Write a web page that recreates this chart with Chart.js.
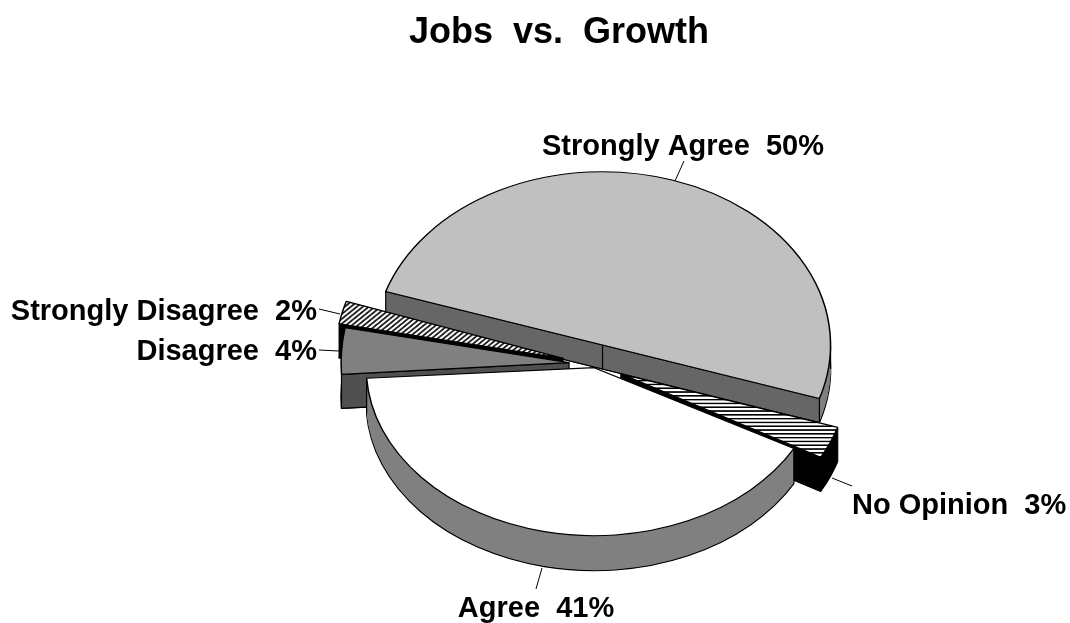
<!DOCTYPE html>
<html>
<head>
<meta charset="utf-8">
<title>Jobs vs. Growth</title>
<script src="https://cdn.jsdelivr.net/npm/chart.js@4"></script>
<style>
  body { margin: 0; background: #fff; }
  canvas { display: block; }
</style>
</head>
<body>
<canvas id="myChart" width="1070" height="623"></canvas>
<script>
// values, in pie order (clockwise)
const categories = ['Strongly Agree', 'No Opinion', 'Agree', 'Disagree', 'Strongly Disagree'];
const percents = [50, 3, 41, 4, 2];

// hatch fills for the two small slices
function stripes (w, h, paint) {
    let c = document.createElement('canvas');
    c.width = w; c.height = h;
    let g = c.getContext('2d');
    g.fillStyle = '#fff';
    g.fillRect(0, 0, w, h);
    g.fillStyle = '#000';
    g.strokeStyle = '#000';
    paint(g);
    return g.createPattern(c, 'repeat');
}
let horizontal = stripes(4, 5, g => g.fillRect(0, 0, 4, 2));
let diagonal = stripes(6, 6, g => {
    g.lineWidth = 1.8;
    g.beginPath();
    g.moveTo(-1, 7); g.lineTo(7, -1);
    g.moveTo(-4, 4); g.lineTo(4, -4);
    g.moveTo(2, 10); g.lineTo(10, 2);
    g.stroke();
});

// fake 3D: each slice gets squashed, pulled out and stacked by this plugin
const look = {
    centre: { x: 597, y: 358 },
    squash: [0.76, 0.76, 0.737, 0.82, 0.81],
    explode: [18, 26, 13, 28, 35],
    drop: [0, 8, 0, 6, 7],
    depth: [24, 34, 35, 34, 34],
    wall: ['#808080', '#000000', '#808080', '#505050', '#000000'],
    cut: ['#666666', '#000000', '#808080', '#505050', '#000000'],
    order: [0, 4, 3, 1, 2],
    baseK: 0.76
};

const calloutPos = [
    { tx: 683, ty: 155, align: 'center', line: [684, 161, 675, 181] },
    { tx: 852, ty: 514, align: 'left', line: [832, 478, 852, 486] },
    { tx: 536, ty: 617, align: 'center', line: [542, 568, 536, 589] },
    { tx: 317, ty: 360, align: 'right', line: [319, 350, 339, 351] },
    { tx: 317, ty: 320, align: 'right', line: [319, 309, 340, 314] }
];

function drawSlice (ctx, arc, i) {
    let k = look.squash[i], d = look.depth[i];
    let mid = (arc.startAngle + arc.endAngle) / 2;
    let tipX = look.centre.x + Math.cos(mid) * look.explode[i];
    let tipY = look.centre.y + Math.sin(mid) * look.explode[i] * look.baseK + look.drop[i];
    let R = arc.outerRadius;

    function place (dy) {
        ctx.save();
        ctx.translate(tipX, tipY + dy);
        ctx.scale(1, k);
        ctx.translate(-arc.x, -arc.y);
    }
    function ghost (opts) {
        let g = Object.create(arc);
        g.options = Object.assign({}, arc.options, opts);
        return g;
    }
    function rim (a) {
        return [tipX + Math.cos(a) * R, tipY + Math.sin(a) * R * k];
    }
    function drop (a) {
        let p = rim(a);
        ctx.beginPath();
        ctx.moveTo(p[0], p[1]);
        ctx.lineTo(p[0], p[1] + d);
        ctx.stroke();
    }

    // side wall, bottom layer keeps the outline
    for (let y = d; y >= 1; y--) {
        place(y);
        ghost({ backgroundColor: look.wall[i], borderColor: '#000', borderWidth: y === d ? 1.5 : 0 }).draw(ctx);
        ctx.restore();
    }

    ctx.strokeStyle = '#000';
    ctx.lineWidth = 1.2;

    // flat cut faces, only those turned towards the viewer
    let faces = [
        { a: arc.startAngle, show: Math.cos(arc.startAngle) < 0 },
        { a: arc.endAngle, show: Math.cos(arc.endAngle) > 0 }
    ];
    faces.forEach(f => {
        if (f.show) {
            let p = rim(f.a);
            ctx.beginPath();
            ctx.moveTo(tipX, tipY);
            ctx.lineTo(p[0], p[1]);
            ctx.lineTo(p[0], p[1] + d);
            ctx.lineTo(tipX, tipY + d);
            ctx.closePath();
            ctx.fillStyle = look.cut[i];
            ctx.fill();
            ctx.stroke();
        } else if (Math.sin(f.a) > 0) {
            drop(f.a);
        }
    });

    // silhouette edge where the rim turns round at far left / far right
    [0, Math.PI, 2 * Math.PI, -Math.PI].forEach(a => {
        if (a > arc.startAngle && a < arc.endAngle) drop(a);
    });

    // top face
    place(0);
    arc.draw(ctx);
    ctx.restore();
}

const pie3d = {
    id: 'pie3d',
    beforeDatasetDraw (chart, args) {
        let ctx = chart.ctx;
        let arcs = chart.getDatasetMeta(args.index).data;
        look.order.forEach(i => drawSlice(ctx, arcs[i], i));
        return false;
    },
    afterDraw (chart) {
        let ctx = chart.ctx;
        ctx.save();
        ctx.font = 'bold 29px "Liberation Sans", Arial, sans-serif';
        ctx.fillStyle = '#000';
        ctx.strokeStyle = '#000';
        ctx.lineWidth = 1;
        ctx.textBaseline = 'alphabetic';
        categories.forEach((name, i) => {
            let c = calloutPos[i];
            ctx.beginPath();
            ctx.moveTo(c.line[0], c.line[1]);
            ctx.lineTo(c.line[2], c.line[3]);
            ctx.stroke();
            ctx.textAlign = c.align;
            ctx.fillText(name + '  ' + percents[i] + '%', c.tx, c.ty);
        });
        ctx.restore();
    }
};

let chart = new Chart(document.getElementById('myChart').getContext('2d'), {
    type: 'pie',
    data: {
        labels: categories,
        datasets: [{
            data: percents,
            backgroundColor: ['#c0c0c0', horizontal, '#ffffff', '#808080', diagonal],
            borderColor: '#000000',
            borderWidth: 1.5,
            offset: 0
        }]
    },
    options: {
        responsive: false,
        animation: false,
        rotation: 288,
        radius: 228,
        events: [],
        layout: { padding: { left: 48 } },
        plugins: {
            legend: { display: false },
            tooltip: { enabled: false },
            title: {
                display: true,
                text: 'Jobs  vs.  Growth',
                color: '#000',
                font: { family: '"Liberation Sans", Arial, sans-serif', size: 36, weight: 'bold' },
                padding: { top: 11, bottom: 17 }
            }
        }
    },
    plugins: [pie3d]
});
</script>
</body>
</html>
